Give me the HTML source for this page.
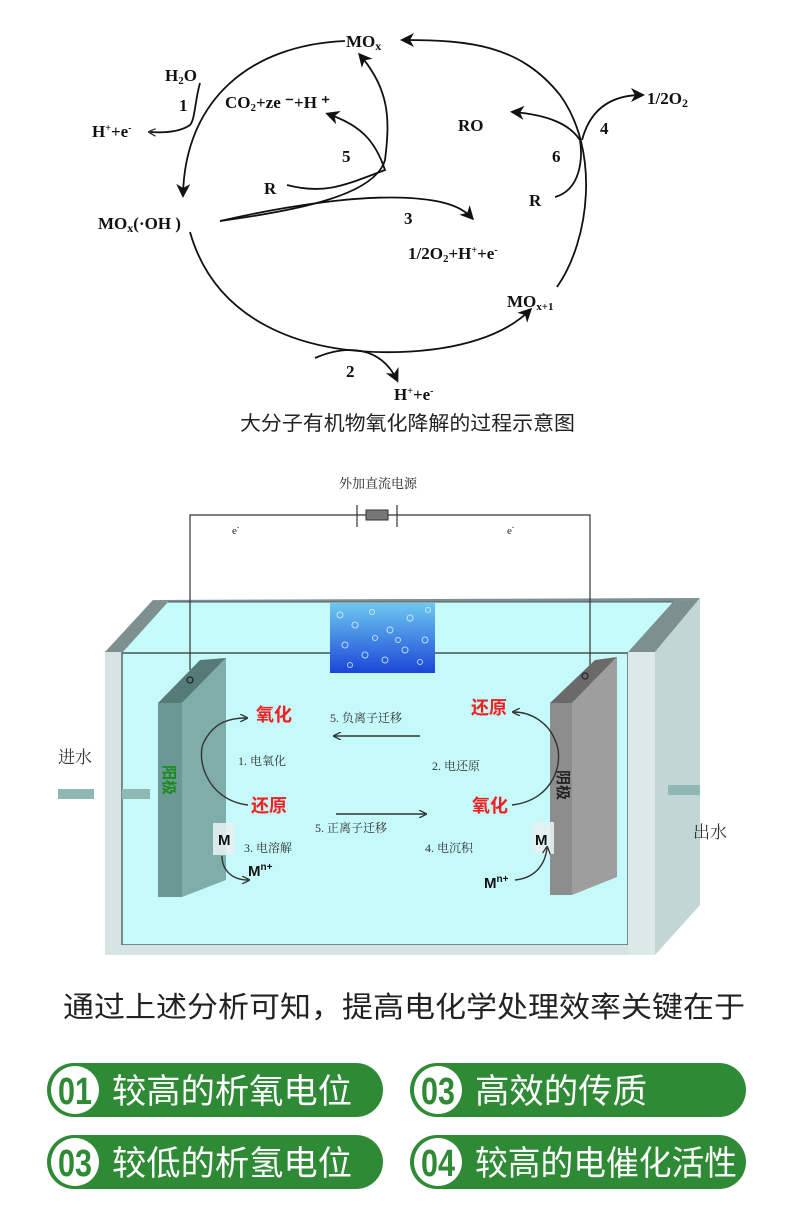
<!DOCTYPE html>
<html><head><meta charset="utf-8"><style>
body{margin:0;background:#fff;}
svg{display:block}
</style></head><body>
<svg width="790" height="1221" viewBox="0 0 790 1221" xmlns="http://www.w3.org/2000/svg" font-family="Liberation Serif, Noto Serif CJK SC, serif">
<defs>
<marker id="ah" markerWidth="14" markerHeight="14" refX="11" refY="7" orient="auto" markerUnits="userSpaceOnUse"><path d="M0,0 L14,7 L0,14 L4,7z" fill="#111"/></marker>
<marker id="as" markerWidth="8" markerHeight="8" refX="6" refY="4" orient="auto" markerUnits="userSpaceOnUse"><path d="M0,0 L8,4 L0,8" fill="none" stroke="#333" stroke-width="1.3"/></marker>
<linearGradient id="bub" x1="0" y1="0" x2="0" y2="1"><stop offset="0" stop-color="#6fc8f0"/><stop offset="1" stop-color="#1a46d8"/></linearGradient>
</defs>
<g stroke="#111" stroke-width="1.8" fill="none">
<path d="M345,41 C250,45 185,100 183,195" marker-end="url(#ah)"/>
<path d="M190,232 C215,320 300,355 400,352 C460,350 505,335 530,310" marker-end="url(#ah)"/>
<path d="M557,287 C590,240 600,150 560,95 C520,45 470,40 403,40" marker-end="url(#ah)"/>
<path d="M200,83 C195,100 195,120 190,125 C180,132 165,133 150,132" marker-end="url(#as)"/>
<path d="M287,185 C325,195 345,185 385,170 C375,140 360,125 328,114" marker-end="url(#ah)"/>
<path d="M220,221 C300,210 375,195 385,160 C390,120 390,90 360,55" marker-end="url(#ah)"/>
<path d="M220,221 C290,205 360,195 410,198 C440,200 460,205 472,218" marker-end="url(#ah)"/>
<path d="M315,358 C345,345 380,345 397,380" marker-end="url(#ah)"/>
<path d="M555,197 C580,190 583,160 580,140 C570,125 550,115 513,112" marker-end="url(#ah)"/>
<path d="M582,140 C590,110 610,95 642,95" marker-end="url(#ah)"/>
</g>
<g font-weight="bold" font-size="17" fill="#111">
<text x="346" y="47">MO<tspan font-size="12" dy="3">x</tspan></text>
<text x="165" y="81">H<tspan font-size="11" dy="3">2</tspan><tspan dy="-3">O</tspan></text>
<text x="179" y="111">1</text>
<text x="92" y="137">H<tspan font-size="10" dy="-6">+</tspan><tspan dy="6">+e</tspan><tspan font-size="10" dy="-6">-</tspan></text>
<text x="225" y="108">CO<tspan font-size="11" dy="3">2</tspan><tspan dy="-3">+ze ⁻+H ⁺</tspan></text>
<text x="342" y="162">5</text>
<text x="264" y="194">R</text>
<text x="98" y="229">MO<tspan font-size="12" dy="3">x</tspan><tspan dy="-3">(·OH )</tspan></text>
<text x="404" y="224">3</text>
<text x="408" y="259">1/2O<tspan font-size="11" dy="3">2</tspan><tspan dy="-3">+H</tspan><tspan font-size="10" dy="-6">+</tspan><tspan dy="6">+e</tspan><tspan font-size="10" dy="-6">-</tspan></text>
<text x="458" y="131">RO</text>
<text x="552" y="162">6</text>
<text x="529" y="206">R</text>
<text x="600" y="134">4</text>
<text x="647" y="104">1/2O<tspan font-size="12" dy="3">2</tspan></text>
<text x="507" y="307">MO<tspan font-size="11" dy="3">x+1</tspan></text>
<text x="346" y="377">2</text>
<text x="394" y="400">H<tspan font-size="10" dy="-6">+</tspan><tspan dy="6">+e</tspan><tspan font-size="10" dy="-6">-</tspan></text>
</g>
<text x="240" y="430" textLength="335" lengthAdjust="spacingAndGlyphs" font-family="Liberation Sans, Noto Sans CJK SC, sans-serif" font-size="20" fill="#222">大分子有机物氧化降解的过程示意图</text>

<!-- tank -->
<polygon points="153,600 700,598 655,652 105,652" fill="#c5fbfb"/>
<polygon points="105,652 153,600 168,602 122,653" fill="#7d8f8f"/>
<polygon points="153,600 700,598 673,602 168,602" fill="#7d8f8f"/>
<polygon points="628,652 673,602 700,598 655,652" fill="#7d8f8f"/>
<line x1="168" y1="602" x2="673" y2="602" stroke="#556" stroke-width="1"/>
<rect x="105" y="652" width="17" height="303" fill="#d8e4e4"/>
<rect x="122" y="653" width="506" height="292" fill="#c6fafa" stroke="#556b6b" stroke-width="1.5"/>
<rect x="105" y="945" width="550" height="10" fill="#d8e4e4"/>
<polygon points="628,652 655,652 655,955 628,955" fill="#dde8e8"/>
<polygon points="655,652 700,598 700,905 655,955" fill="#c2d6d6"/>
<line x1="122" y1="653" x2="628" y2="653" stroke="#556b6b" stroke-width="1.5"/>
<rect x="330" y="603" width="105" height="70" fill="url(#bub)"/>
<g fill="none" stroke="#d8f4ff" stroke-width="1" opacity="0.8">
<circle cx="340" cy="615" r="3"/><circle cx="355" cy="625" r="3"/><circle cx="372" cy="612" r="2.5"/><circle cx="390" cy="630" r="3"/><circle cx="410" cy="618" r="3"/><circle cx="425" cy="640" r="3"/><circle cx="345" cy="645" r="3"/><circle cx="365" cy="655" r="3"/><circle cx="385" cy="660" r="3"/><circle cx="405" cy="650" r="3"/><circle cx="420" cy="662" r="2.5"/><circle cx="350" cy="665" r="2.5"/><circle cx="398" cy="640" r="2.5"/><circle cx="375" cy="638" r="2.5"/><circle cx="428" cy="610" r="2.5"/>
</g>
<g stroke="#333" stroke-width="1.2" fill="none">
<path d="M190,670 V515 H357 M397,515 H590 V670"/>
<line x1="357" y1="505" x2="357" y2="527"/><line x1="397" y1="505" x2="397" y2="527"/>
<line x1="357" y1="515" x2="397" y2="515"/>
</g>
<rect x="366" y="510" width="22" height="10" fill="#777" stroke="#333"/>
<text x="378" y="488" text-anchor="middle" font-size="13" fill="#222">外加直流电源</text>
<text x="232" y="534" font-size="11" fill="#222">e<tspan font-size="7" dy="-5">-</tspan></text>
<text x="507" y="534" font-size="11" fill="#222">e<tspan font-size="7" dy="-5">-</tspan></text>
<rect x="58" y="789" width="36" height="10" fill="#8fb8b4"/>
<rect x="122" y="789" width="28" height="10" fill="#8fb8b4"/>
<rect x="668" y="785" width="32" height="10" fill="#8fb8b4"/>
<text x="58" y="763" font-size="17" fill="#333">进水</text>
<text x="693" y="838" font-size="17" fill="#333">出水</text>
<polygon points="158,703 200,660 226,658 182,703" fill="#557a78"/>
<rect x="158" y="703" width="24" height="194" fill="#6a9995"/>
<polygon points="182,703 226,658 226,880 182,897" fill="#7fadaa"/>
<circle cx="190" cy="680" r="3" fill="none" stroke="#222" stroke-width="1.2"/>
<text transform="translate(164,765) rotate(90)" font-size="15" fill="#1a8a1a" font-weight="bold" font-family="Noto Sans CJK SC, sans-serif">阳极</text>
<polygon points="550,703 595,660 617,657 572,703" fill="#6a6a6a"/>
<rect x="550" y="703" width="22" height="192" fill="#8d8d8d"/>
<polygon points="572,703 617,657 617,877 572,895" fill="#9e9e9e"/>
<circle cx="585" cy="676" r="3" fill="none" stroke="#222" stroke-width="1.2"/>
<text transform="translate(558,770) rotate(90)" font-size="15" fill="#222" font-weight="bold" font-family="Noto Sans CJK SC, sans-serif">阴极</text>
<rect x="213" y="823" width="22" height="32" fill="#e4efef" opacity="0.9"/>
<rect x="532" y="822" width="22" height="32" fill="#e4efef" opacity="0.9"/>
<g font-family="Liberation Sans, sans-serif" font-weight="bold" fill="#111">
<text x="218" y="845" font-size="15">M</text>
<text x="535" y="845" font-size="15">M</text>
<text x="248" y="876" font-size="15">M<tspan font-size="10" dy="-6">n+</tspan></text>
<text x="484" y="888" font-size="15">M<tspan font-size="10" dy="-6">n+</tspan></text>
</g>
<g font-family="Liberation Sans, Noto Sans CJK SC, sans-serif" font-weight="bold" font-size="18" fill="#f02020">
<text x="256" y="721">氧化</text>
<text x="471" y="714">还原</text>
<text x="251" y="812">还原</text>
<text x="472" y="812">氧化</text>
</g>
<g font-size="12" fill="#333">
<text x="330" y="722">5. 负离子迁移</text>
<text x="238" y="765">1. 电氧化</text>
<text x="432" y="770">2. 电还原</text>
<text x="315" y="832">5. 正离子迁移</text>
<text x="244" y="852">3. 电溶解</text>
<text x="425" y="852">4. 电沉积</text>
</g>
<g stroke="#333" stroke-width="1.4" fill="none">
<line x1="420" y1="736" x2="335" y2="736" marker-end="url(#as)"/>
<line x1="336" y1="814" x2="425" y2="814" marker-end="url(#as)"/>
<path d="M248,805 C205,800 195,755 205,740 C215,722 230,718 246,718" marker-end="url(#as)"/>
<path d="M512,805 C555,800 565,760 555,740 C548,722 530,712 514,712" marker-end="url(#as)"/>
<path d="M222,856 C222,870 232,880 248,880" marker-end="url(#as)"/>
<path d="M515,880 C535,878 545,865 547,848" marker-end="url(#as)"/>
</g>
<text x="63" y="1017" textLength="682" lengthAdjust="spacingAndGlyphs" font-family="Liberation Sans, Noto Sans CJK SC, sans-serif" font-size="29" fill="#222">通过上述分析可知，提高电化学处理效率关键在于</text>
<g font-family="Liberation Sans, Noto Sans CJK SC, sans-serif">
<rect x="47" y="1063" width="336" height="54" rx="27" fill="#2e8a35"/>
<circle cx="75" cy="1090" r="24" fill="#fff"/>
<text x="75" y="1104" text-anchor="middle" font-size="38" font-weight="bold" fill="#2e8a35" textLength="34" lengthAdjust="spacingAndGlyphs">01</text>
<text x="112" y="1103" font-size="34" fill="#fff" textLength="240" lengthAdjust="spacingAndGlyphs">较高的析氧电位</text>
<rect x="410" y="1063" width="336" height="54" rx="27" fill="#2e8a35"/>
<circle cx="438" cy="1090" r="24" fill="#fff"/>
<text x="438" y="1104" text-anchor="middle" font-size="38" font-weight="bold" fill="#2e8a35" textLength="34" lengthAdjust="spacingAndGlyphs">03</text>
<text x="475" y="1103" font-size="34" fill="#fff" textLength="172" lengthAdjust="spacingAndGlyphs">高效的传质</text>
<rect x="47" y="1135" width="336" height="54" rx="27" fill="#2e8a35"/>
<circle cx="75" cy="1162" r="24" fill="#fff"/>
<text x="75" y="1176" text-anchor="middle" font-size="38" font-weight="bold" fill="#2e8a35" textLength="34" lengthAdjust="spacingAndGlyphs">03</text>
<text x="112" y="1175" font-size="34" fill="#fff" textLength="240" lengthAdjust="spacingAndGlyphs">较低的析氢电位</text>
<rect x="410" y="1135" width="336" height="54" rx="27" fill="#2e8a35"/>
<circle cx="438" cy="1162" r="24" fill="#fff"/>
<text x="438" y="1176" text-anchor="middle" font-size="38" font-weight="bold" fill="#2e8a35" textLength="34" lengthAdjust="spacingAndGlyphs">04</text>
<text x="475" y="1175" font-size="34" fill="#fff" textLength="262" lengthAdjust="spacingAndGlyphs">较高的电催化活性</text>
</g>
</svg>
</body></html>
